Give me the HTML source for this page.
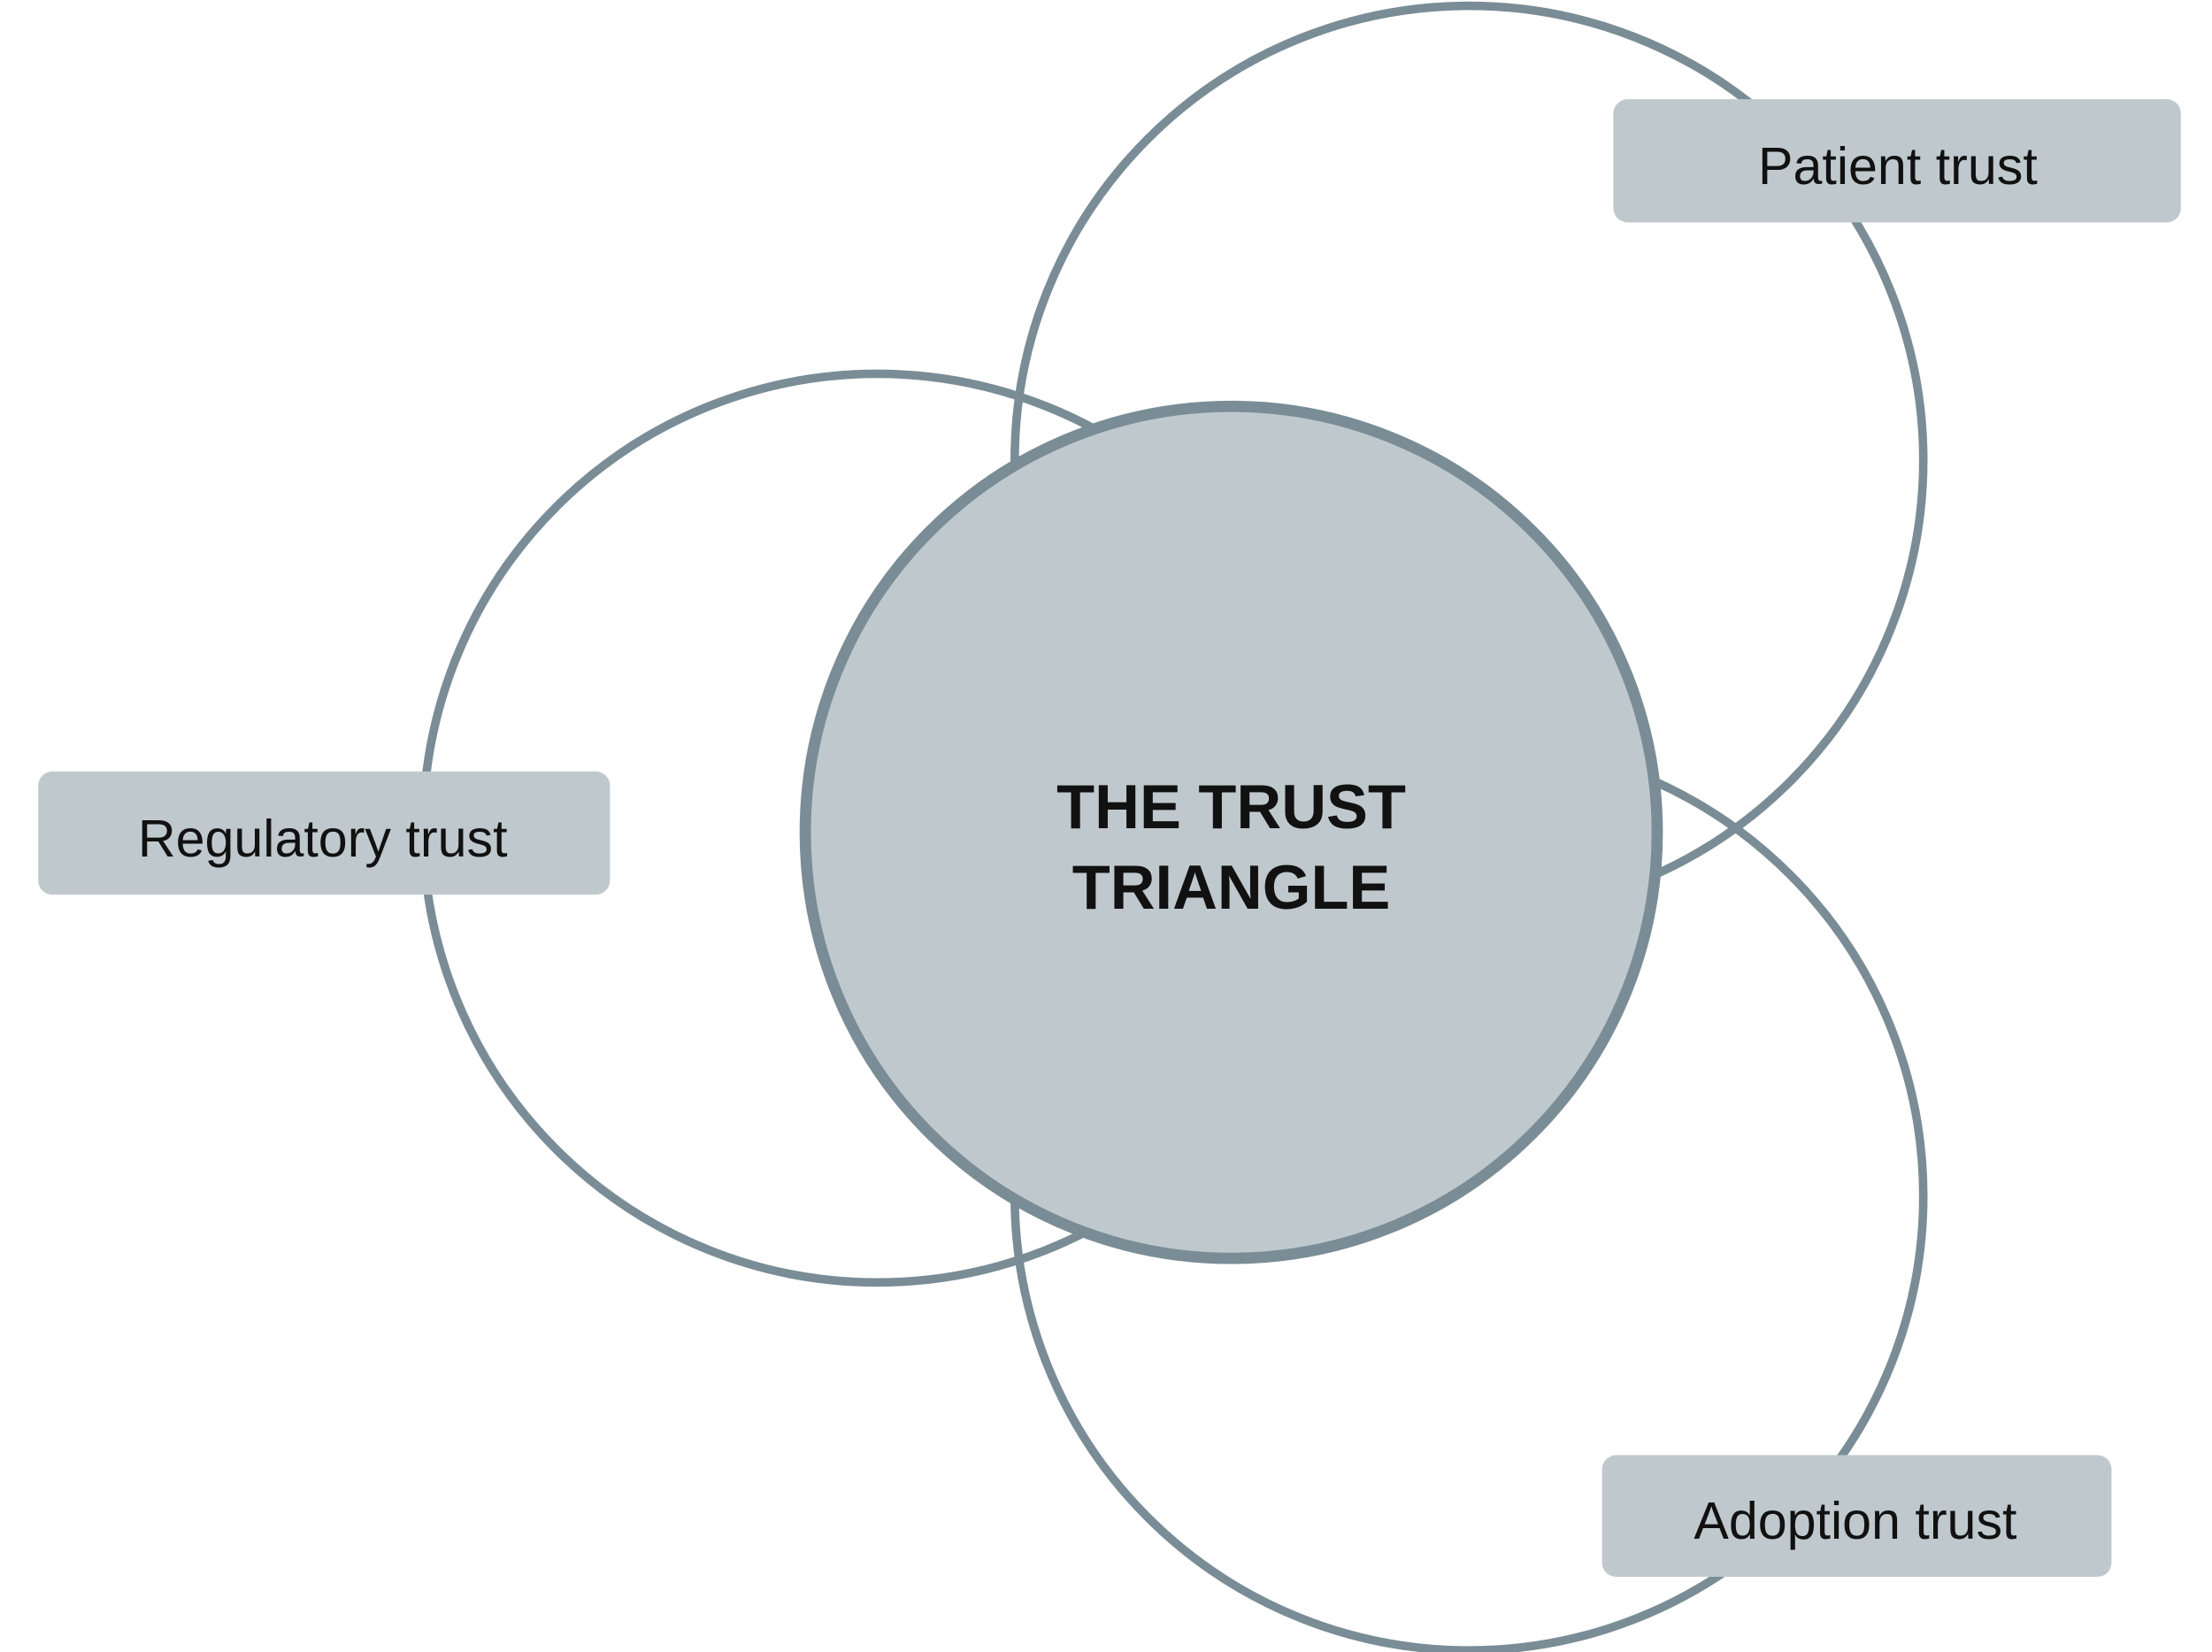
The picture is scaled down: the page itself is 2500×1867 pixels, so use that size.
<!DOCTYPE html>
<html><head><meta charset="utf-8"><style>
html,body{margin:0;padding:0;background:#fff;}
svg{display:block;}
text{font-family:"Liberation Sans",sans-serif;}
</style></head><body>
<svg width="2500" height="1867" viewBox="0 0 1563 1167" xmlns="http://www.w3.org/2000/svg">
<rect width="1563" height="1167" fill="#fff"/>
<g fill="none" stroke="#7a8d96" stroke-width="6">
<circle cx="1038" cy="325" r="321"/>
<circle cx="620" cy="585" r="321"/>
<circle cx="1038" cy="845" r="321"/>
</g>
<circle cx="870" cy="588" r="301" fill="#bfc9cd" stroke="#7a8d96" stroke-width="8"/>
<rect x="1140" y="70" width="401" height="87" rx="10" fill="#bfc9cd"/>
<rect x="27" y="545" width="404" height="87" rx="10" fill="#bfc9cd"/>
<rect x="1132" y="1028" width="360" height="86" rx="10" fill="#bfc9cd"/>
<g font-size="37" fill="#111" text-anchor="middle">
<text x="1341" y="130">Patient trust</text>
<text x="228" y="605">Regulatory trust</text>
<text x="1311" y="1087">Adoption trust</text>
</g>
<g font-size="44" font-weight="bold" fill="#111" text-anchor="middle">
<text x="870" y="585">THE TRUST</text>
<text x="870" y="642">TRIANGLE</text>
</g>
</svg>
</body></html>
